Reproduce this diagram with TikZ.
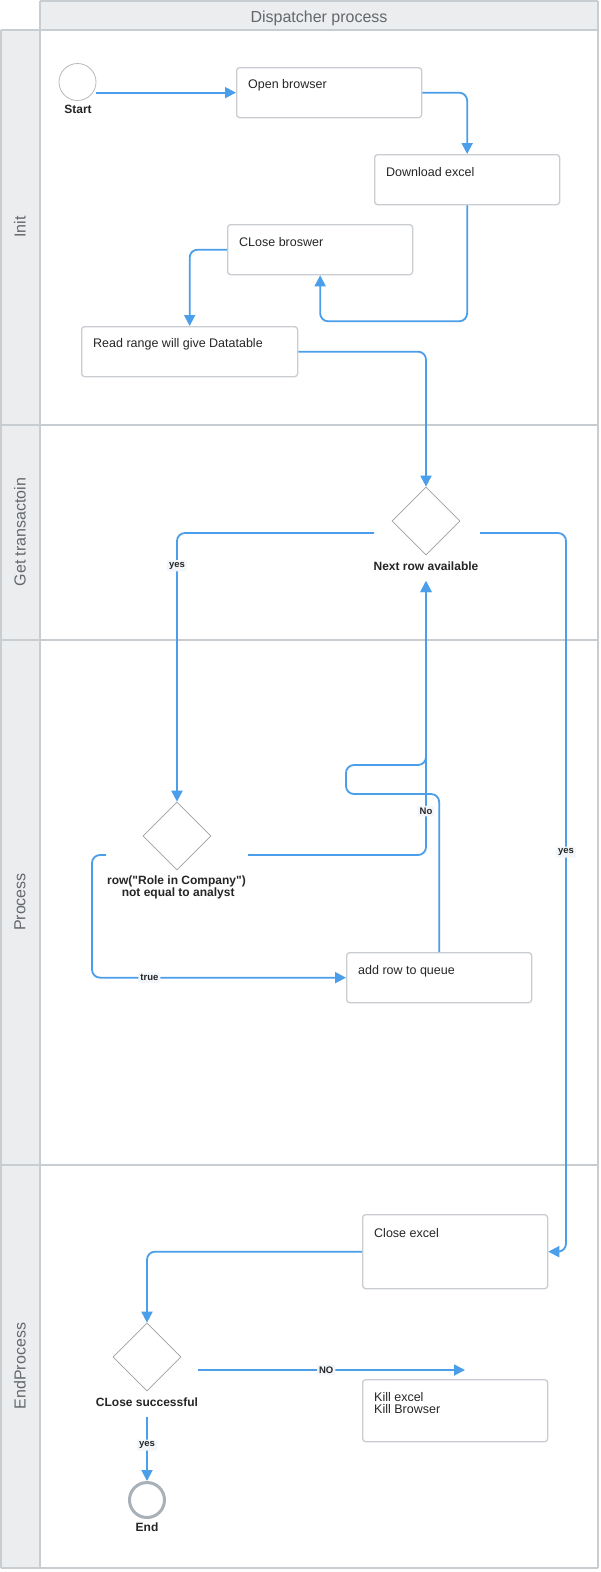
\documentclass[tikz,border=0pt]{standalone}
\usepackage{fontspec}
\setmainfont{Liberation Sans}[Ligatures=TeXOff]
\usetikzlibrary{arrows.meta,shapes.geometric,calc}
\definecolor{lanebg}{HTML}{EBEDEF}
\definecolor{laneline}{HTML}{C8CDD1}
\definecolor{boxline}{HTML}{C9CDD2}
\definecolor{flow}{HTML}{4A9EEA}
\definecolor{hdtext}{HTML}{64686C}
\definecolor{txt}{HTML}{262626}
\definecolor{endgray}{HTML}{A8B0B8}
\definecolor{lblbg}{HTML}{F2F6FA}
\begin{document}
\begin{tikzpicture}[x=1pt,y=-1pt,
  box/.style={draw=boxline, line width=1.3pt, rounded corners=3pt, fill=white, anchor=north west, minimum width=185pt, minimum height=50pt, inner sep=0pt},
  boxtext/.style={anchor=west, font=\fontsize{12.5}{12}\selectfont, text=txt, inner sep=0pt, align=left},
  dec/.style={diamond, draw=gray!75, line width=0.7pt, minimum width=68pt, minimum height=68pt, inner sep=0pt, fill=white},
  dlabel/.style={font=\fontsize{12}{12}\selectfont\bfseries, text=txt, align=center, inner sep=0pt},
  conn/.style={draw=flow, line width=1.8pt, rounded corners=8pt, -{Triangle[length=11pt,width=11pt]}},
  elabel/.style={font=\fontsize{9.5}{10}\selectfont\bfseries, text=txt, fill=lblbg, rounded corners=2pt, inner sep=2pt},
  lanetext/.style={rotate=90, font=\fontsize{16}{16}\selectfont, text=hdtext, inner sep=0pt},
]
\useasboundingbox (0,0) rectangle (600,1572);
\fill[white] (0,0) rectangle (600,1572);
% header and lane column
\fill[lanebg] (40,1) rectangle (598,30);
\fill[lanebg] (1,30) rectangle (40,1568);
\draw[laneline, line width=1.5pt] (40,1) -- (598,1);
\draw[laneline, line width=1.5pt] (40,1) -- (40,1568);
\draw[laneline, line width=1.5pt] (598,1) -- (598,1568);
\draw[laneline, line width=1.5pt] (1,30) -- (1,1568);
\draw[laneline, line width=1.5pt] (1,30) -- (598,30);
\draw[laneline, line width=1.5pt] (1,425) -- (598,425);
\draw[laneline, line width=1.5pt] (1,640) -- (598,640);
\draw[laneline, line width=1.5pt] (1,1165) -- (598,1165);
\draw[laneline, line width=1.5pt] (1,1568) -- (598,1568);
\node[font=\fontsize{16}{16}\selectfont, text=hdtext] (hdr) at (319,18) {Dispatcher process};
\node[lanetext] (lane1) at (20,227) {Init};
\node[lanetext] (lane2) at (20,532) {Get transactoin};
\node[lanetext] (lane3) at (20,902) {Process};
\node[lanetext] (lane4) at (20,1366) {EndProcess};

% nodes
\node[circle, draw=gray!55, line width=0.8pt, minimum size=37pt, inner sep=0pt] (start) at (77.5,82) {};
\node[dlabel] (startl) at (78,109) {Start};
\node[box] (ob) at (236,67) {};
\node[boxtext] (obt) at ($(ob.north west)+(12,18)$) {Open browser};
\node[box] (dl) at (374,154) {};
\node[boxtext] (dlt) at ($(dl.north west)+(12,18)$) {Download excel};
\node[box] (cb) at (227,224) {};
\node[boxtext] (cbt) at ($(cb.north west)+(12,18)$) {CLose broswer};
\node[box, minimum width=216pt] (rr) at (81,326) {};
\node[boxtext] (rrt) at ($(rr.north west)+(12,18)$) {Read range will give Datatable};
\node[dec] (d1) at (426,521) {};
\node[dlabel] (d1t) at (426,566) {Next row available};
\node[dec] (d2) at (177,836) {};
\node[dlabel] (d2t) at (176.5,887) {row("Role in Company")\\ \ not equal to analyst};
\node[box] (aq) at (346,952) {};
\node[boxtext] (aqt) at ($(aq.north west)+(12,19)$) {add row to queue};
\node[box, minimum height=74pt] (ce) at (362,1214) {};
\node[boxtext] (cet) at ($(ce.north west)+(12,19)$) {Close excel};
\node[box, minimum height=62pt] (kk) at (362,1379) {};
\node[boxtext] (kkt) at ($(kk.north west)+(12,24.5)$) {Kill excel\\Kill Browser};
\node[dec] (d3) at (147,1357) {};
\node[dlabel] (d3t) at (147,1402) {CLose successful};
\node[circle, draw=endgray, line width=3pt, minimum size=35pt, inner sep=0pt] (end) at (147,1500) {};
\node[dlabel] (endl) at (147,1527) {End};

% free connector ends
\coordinate (d1lft) at (374,533);
\coordinate (d1rgt) at (480,533);
\coordinate (d1bot) at (426,581);
\coordinate (d2lft) at (106,855);
\coordinate (d2rgt) at (248,855);
\coordinate (d3rgt) at (198,1370);
\coordinate (kin) at (465,1370);
\coordinate (d3bot) at (147,1417);

% connectors
\draw[conn] (start.east |- ob.west) -- (ob.west);
\draw[conn] (ob.east) -| (dl.north);
\draw[conn] (dl.south) -- ++(0,116) -| (cb.south);
\draw[conn] (cb.west) -| (rr.north);
\draw[conn] (rr.east) -| (d1.north);
\draw[conn] (d1lft) -| (d2.north) node[elabel, pos=0.561] {yes};
\draw[conn] (d1rgt) -- ++(86,0) |- (ce.east) node[elabel, pos=0.222] {yes};
\draw[conn] (aq.north) |- (346,794) -- (346,765) -| (d1bot);
\draw[conn] (d2rgt) -| (d1bot) node[elabel, pos=0.58] {No};
\draw[conn] (d2lft) -- (92,855) |- (aq.west) node[elabel, pos=0.613] {true};
\draw[conn] (ce.west) -| (d3.north);
\draw[conn] (d3rgt) -- (kin) node[elabel, pos=0.48] {NO};
\draw[conn] (d3bot) -- (end.north) node[elabel, pos=0.44] {yes};
\end{tikzpicture}
\end{document}
